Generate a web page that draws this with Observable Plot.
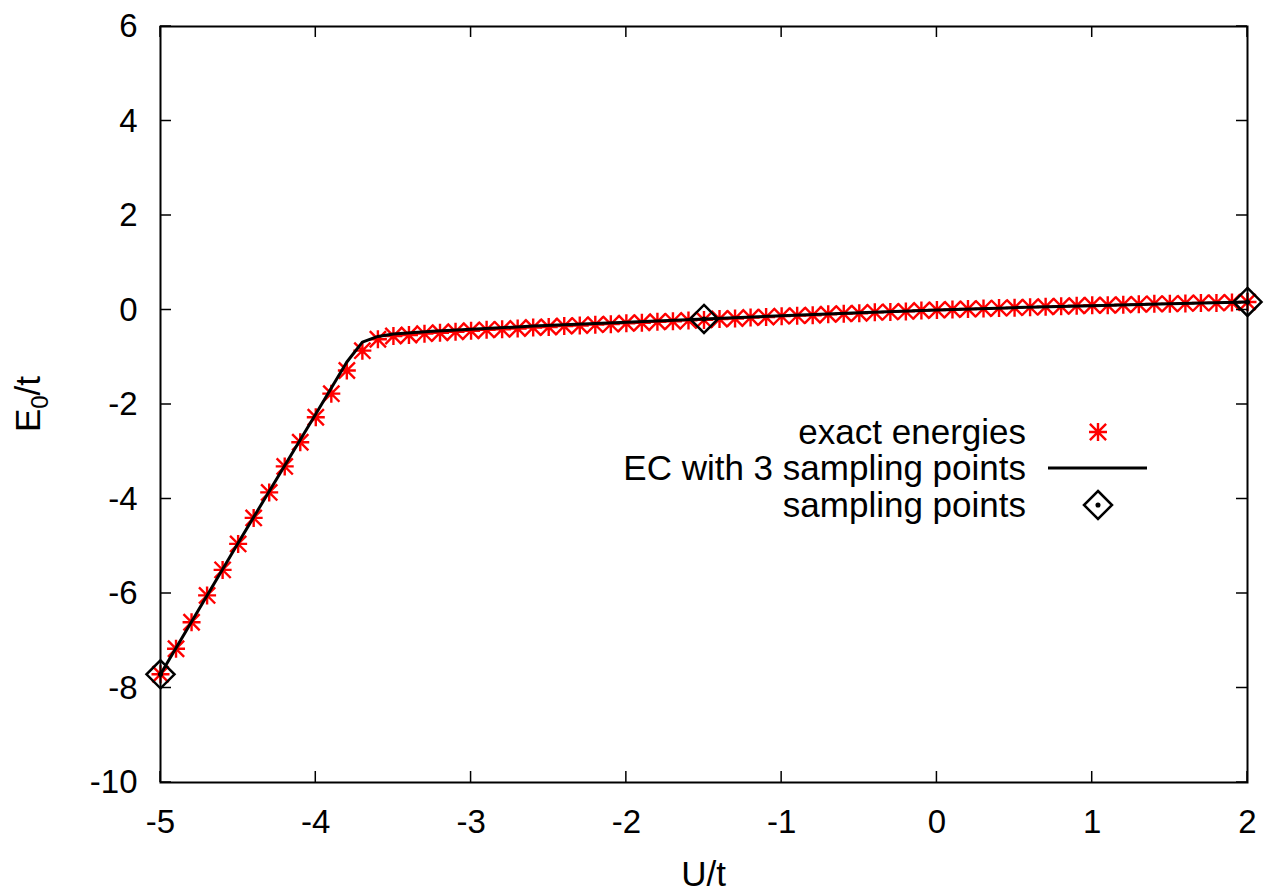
<!DOCTYPE html>
<html>
<head>
<meta charset="utf-8">
<script src="https://cdn.jsdelivr.net/npm/d3@7"></script>
<script src="https://cdn.jsdelivr.net/npm/@observablehq/plot@0.6"></script>
<style>
  html, body { margin: 0; padding: 0; background: #fff; }
  #chart { width: 1265px; height: 891px; }
</style>
</head>
<body>
<div id="chart"></div>
<script>
// ---------- data ----------
const exactU = [
  -5.0, -4.9, -4.8, -4.7, -4.6, -4.5, -4.4, -4.3, -4.2, -4.1,
  -4.0, -3.9, -3.8, -3.7, -3.6, -3.5, -3.4, -3.3, -3.2, -3.1,
  -3.0, -2.9, -2.8, -2.7, -2.6, -2.5, -2.4, -2.3, -2.2, -2.1,
  -2.0, -1.9, -1.8, -1.7, -1.6, -1.5, -1.4, -1.3, -1.2, -1.1,
  -1.0, -0.9, -0.8, -0.7, -0.6, -0.5, -0.4, -0.3, -0.2, -0.1,
   0.0,  0.1,  0.2,  0.3,  0.4,  0.5,  0.6,  0.7,  0.8,  0.9,
   1.0,  1.1,  1.2,  1.3,  1.4,  1.5,  1.6,  1.7,  1.8,  1.9, 2.0
];
const exactE = [
  -7.71, -7.17, -6.61, -6.04, -5.50, -4.95, -4.40, -3.86, -3.31, -2.80,
  -2.27, -1.77, -1.28, -0.86, -0.62, -0.55, -0.53, -0.50, -0.48, -0.46,
  -0.44, -0.42, -0.41, -0.39, -0.37, -0.36, -0.34, -0.33, -0.31, -0.30,
  -0.28, -0.27, -0.25, -0.24, -0.22, -0.21, -0.19, -0.18, -0.16, -0.15,
  -0.13, -0.12, -0.11, -0.09, -0.08, -0.07, -0.05, -0.04, -0.03, -0.01,
   0.00,  0.01,  0.02,  0.03,  0.04,  0.05,  0.06,  0.07,  0.08,  0.09,
   0.10,  0.10,  0.11,  0.12,  0.13,  0.13,  0.14,  0.15,  0.15,  0.16, 0.17
];
const ecU = [-5.0, -4.5, -4.0, -3.8, -3.7, -3.6, -3.5, -3.25, -3.0, -2.6, -2.0, -1.5, -1.0, -0.5, 0.0, 0.5, 1.0, 1.5, 2.0];
const ecE = [-7.71, -4.93, -2.20, -1.10, -0.68, -0.56, -0.51, -0.45, -0.41, -0.34, -0.26, -0.19, -0.12, -0.06, 0.00, 0.05, 0.09, 0.13, 0.17];
const sampleU = [-5.0, -1.5, 2.0];
const sampleE = [-7.71, -0.19, 0.17];
const xTicks = [-5, -4, -3, -2, -1, 0, 1, 2];
const yTicks = [-10, -8, -6, -4, -2, 0, 2, 4, 6];
const legendLabels = ["exact energies", "EC with 3 sampling points", "sampling points"];

const exact = exactU.map((u, i) => ({u, e: exactE[i]}));
const ec = ecU.map((u, i) => ({u, e: ecE[i]}));
const samples = sampleU.map((u, i) => ({u, e: sampleE[i]}));

// ---------- custom symbols ----------
const starSymbol = {
  draw(ctx, size) {
    const r = Math.sqrt(size / Math.PI);
    const d = r * 0.9;
    ctx.moveTo(-r, 0); ctx.lineTo(r, 0);
    ctx.moveTo(0, -r); ctx.lineTo(0, r);
    ctx.moveTo(-d, -d); ctx.lineTo(d, d);
    ctx.moveTo(-d, d); ctx.lineTo(d, -d);
  }
};
const diamondSymbol = {
  draw(ctx, size) {
    const r = Math.sqrt(size / Math.PI);
    ctx.moveTo(0, -r); ctx.lineTo(r, 0); ctx.lineTo(0, r); ctx.lineTo(-r, 0); ctx.closePath();
    ctx.moveTo(1.3, 0); ctx.arc(0, 0, 1.3, 0, 2 * Math.PI);
  }
};

const FONT = "Liberation Sans, Arial, Helvetica, sans-serif";

const plot = Plot.plot({
  width: 1265,
  height: 891,
  marginLeft: 160,
  marginRight: 18,
  marginTop: 26,
  marginBottom: 109,
  style: {fontFamily: FONT, fontSize: "33px", color: "black", background: "white", overflow: "visible"},
  x: {domain: [-5, 2], ticks: xTicks, tickFormat: d => String(d), tickSize: 0, tickPadding: 27, label: null},
  y: {domain: [-10, 6], ticks: yTicks, tickFormat: d => String(d), tickSize: 0, tickPadding: 23, label: null},
  marks: [
    Plot.dot(exact, {x: "u", y: "e", symbol: starSymbol, r: 9, stroke: "#ff0000", strokeWidth: 2.4, fill: "none"}),
    Plot.line(ec, {x: "u", y: "e", stroke: "black", strokeWidth: 3, curve: "linear"}),
    Plot.dot(samples, {x: "u", y: "e", symbol: diamondSymbol, r: 14, stroke: "black", strokeWidth: 2.5, fill: "none"}),
    Plot.frame({stroke: "black", strokeWidth: 2})
  ]
});

document.getElementById("chart").appendChild(plot);

// ---------- inward ticks (mirrored, gnuplot style) ----------
const svg = d3.select(plot);
const sx = plot.scale("x"), sy = plot.scale("y");
const L = 160, R = 1265 - 18, T = 26, B = 891 - 109, TL = 11;
const tg = svg.append("g").attr("stroke", "black").attr("stroke-width", 1.5);
xTicks.forEach(v => {
  const px = sx.apply(v);
  tg.append("line").attr("x1", px).attr("x2", px).attr("y1", B).attr("y2", B - TL);
  tg.append("line").attr("x1", px).attr("x2", px).attr("y1", T).attr("y2", T + TL);
});
yTicks.forEach(v => {
  const py = sy.apply(v);
  tg.append("line").attr("x1", L).attr("x2", L + TL).attr("y1", py).attr("y2", py);
  tg.append("line").attr("x1", R).attr("x2", R - TL).attr("y1", py).attr("y2", py);
});

// ---------- axis labels ----------
svg.append("text")
  .attr("x", (L + R) / 2).attr("y", 886)
  .attr("text-anchor", "middle")
  .attr("font-family", FONT).attr("font-size", 35).attr("fill", "black")
  .text("U/t");

const yl = svg.append("text")
  .attr("transform", `translate(40, ${(T + B) / 2}) rotate(-90)`)
  .attr("text-anchor", "middle")
  .attr("font-family", FONT).attr("font-size", 35).attr("fill", "black");
yl.append("tspan").text("E");
yl.append("tspan").attr("font-size", 24).attr("dy", 8).text("0");
yl.append("tspan").attr("dy", -8).text("/t");

// ---------- legend ----------
const lg = svg.append("g").attr("font-family", FONT).attr("font-size", 35).attr("fill", "black");
const rowsY = [432, 468, 505];
legendLabels.forEach((t, i) => {
  lg.append("text").attr("x", 1026).attr("y", rowsY[i] + 12).attr("text-anchor", "end").text(t);
});
const starPath = d3.path(); starSymbol.draw(starPath, Math.PI * 81);
lg.append("path").attr("d", starPath.toString()).attr("transform", `translate(1098, ${rowsY[0]})`)
  .attr("stroke", "#ff0000").attr("stroke-width", 2.4).attr("fill", "none");
lg.append("line").attr("x1", 1048).attr("x2", 1147).attr("y1", rowsY[1]).attr("y2", rowsY[1])
  .attr("stroke", "black").attr("stroke-width", 3);
const diaPath = d3.path(); diamondSymbol.draw(diaPath, Math.PI * 14 * 14);
lg.append("path").attr("d", diaPath.toString()).attr("transform", `translate(1098, ${rowsY[2]})`)
  .attr("stroke", "black").attr("stroke-width", 2.5).attr("fill", "none");
</script>
</body>
</html>
